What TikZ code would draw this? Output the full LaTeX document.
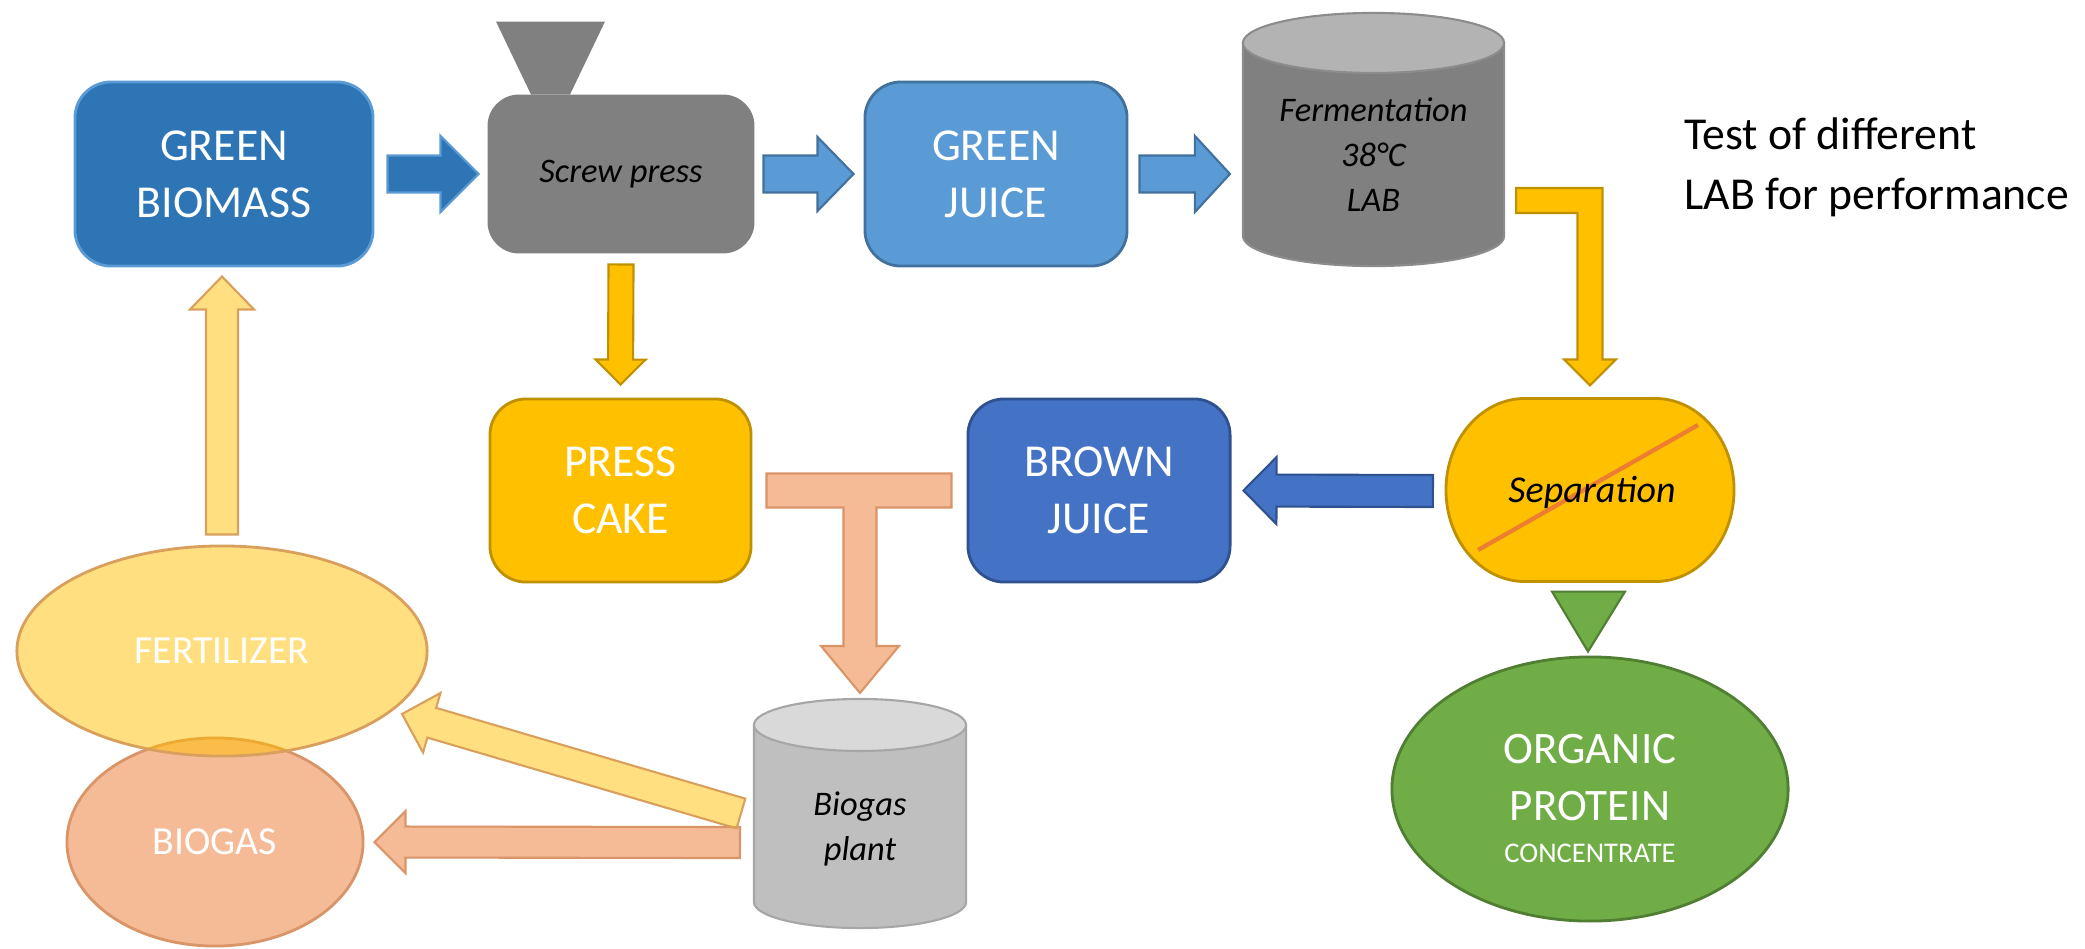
\documentclass[tikz,border=0pt]{standalone}
\usepackage{fontspec}
\setmainfont{Carlito}
\usepackage{tikz}
\usetikzlibrary{calc,shapes.geometric}

\definecolor{bluedark}{HTML}{2E75B6}
\definecolor{bluelight}{HTML}{5B9BD5}
\definecolor{blueedge}{HTML}{41719C}
\definecolor{bluemid}{HTML}{4472C4}
\definecolor{bluemidedge}{HTML}{2F528F}
\definecolor{gold}{HTML}{FFC000}
\definecolor{goldedge}{HTML}{BF9000}
\definecolor{paleedge}{HTML}{D8A05C}
\definecolor{salmon}{HTML}{F5BA96}
\definecolor{salmonedge}{HTML}{D99468}
\definecolor{leaf}{HTML}{70AD47}
\definecolor{leafedge}{HTML}{507E32}
\definecolor{orangeline}{HTML}{ED7D31}
\definecolor{graybody}{HTML}{808080}
\definecolor{graytop}{HTML}{B3B3B3}
\definecolor{grayedge}{HTML}{8C8C8C}
\definecolor{silverbody}{HTML}{BFBFBF}
\definecolor{silvertop}{HTML}{D9D9D9}
\definecolor{silveredge}{HTML}{A6A6A6}

\newcommand{\blockarrow}[6][]{%
  \coordinate (ba-h) at ($(#3)!#6!(#2)$);
  \draw[#1] ($(#2)!#4!90:(#3)$) -- ($(ba-h)!#4!90:(#3)$) -- ($(ba-h)!#5!90:(#3)$) -- (#3)
    -- ($(ba-h)!#5!-90:(#3)$) -- ($(ba-h)!#4!-90:(#3)$) -- ($(#2)!#4!-90:(#3)$) -- cycle;}

\newcommand{\tank}[6]{%
  \filldraw[fill=#4, draw=#6, line width=0.6pt] ($(#1.north west)+(0,-#3)$) -- ($(#1.south west)+(0,#3)$)
    arc[start angle=180, end angle=360, x radius=#2, y radius=#3] -- ($(#1.north east)+(0,-#3)$) -- cycle;
  \filldraw[fill=#5, draw=#6, line width=0.6pt] ($(#1.north)+(0,-#3)$) ellipse[x radius=#2, y radius=#3];}

\begin{document}
\begin{tikzpicture}[x=0.01cm,y=-0.01cm,
  box/.style={rectangle, rounded corners=0.36cm, minimum width=2.62cm, minimum height=1.84cm,
    align=center, text=white, line width=0.8pt, font=\fontsize{13}{16.3}\selectfont},
  tankbox/.style={inner sep=0pt, outer sep=0pt},
  tanktext/.style={align=center, font=\itshape\fontsize{9.8}{12.8}\selectfont},
  blob/.style={ellipse, inner sep=0pt, text=white, line width=0.8pt, font=\fontsize{11.3}{14}\selectfont},
  arrowdark/.style={fill=bluedark, draw=bluelight, line width=0.6pt},
  arrowlight/.style={fill=bluelight, draw=blueedge, line width=0.6pt},
  arrowmid/.style={fill=bluemid, draw=bluemidedge, line width=0.6pt},
  arrowgold/.style={fill=gold, draw=goldedge, line width=0.6pt},
  arrowpale/.style={fill=gold, fill opacity=0.5, draw=paleedge, line width=0.6pt},
  arrowsalmon/.style={fill=salmon, draw=salmonedge, line width=0.6pt}]
\useasboundingbox (0,0) rectangle (2085,948);

\node[box, minimum width=2.98cm, fill=bluedark, draw=bluelight] (gb) at (224,174) {GREEN\\BIOMASS};
\node[box, minimum width=2.64cm, minimum height=1.56cm, rounded corners=0.3cm, fill=graybody, draw=graybody,
  text=black, font=\itshape\fontsize{9.8}{12.8}\selectfont] (sp) at (621,174) {Screw press};
\fill[graybody] ($(sp.north)+(-90,0)$) -- ($(sp.north)+(-51,0)$) -- ($(sp.north)+(-16,-73)$) -- ($(sp.north)+(-125,-73)$) -- cycle;
\node[box, fill=bluelight, draw=blueedge] (gj) at (996,174) {GREEN\\JUICE};

\node[tankbox, minimum width=2.61cm, minimum height=2.53cm] (ferm) at (1373.5,139.5) {};
\tank{ferm}{1.305cm}{0.3cm}{graybody}{graytop}{grayedge}
\node[tanktext] (fermtext) at ($(ferm.center)+(0,15)$) {Fermentation\\38°C\\LAB};

\node[anchor=west, align=left, font=\fontsize{13}{17}\selectfont] (test) at (1672,167) {Test of different\\LAB for performance};

\node[box, minimum width=2.61cm, minimum height=1.83cm, fill=gold, draw=goldedge] (pc) at (620.5,490.5) {PRESS\\CAKE};
\node[box, minimum height=1.83cm, fill=bluemid, draw=bluemidedge] (bj) at (1099,490.5) {BROWN\\JUICE};

\node[tankbox, minimum width=2.88cm, minimum height=1.83cm] (sep) at (1590,490) {};
\filldraw[fill=gold, draw=goldedge, line width=0.8pt] ($(sep.north)+(-65,0)$) -- ($(sep.north)+(65,0)$)
  arc[start angle=90, end angle=-90, x radius=0.79cm, y radius=0.915cm] -- ($(sep.south)+(-65,0)$)
  arc[start angle=270, end angle=90, x radius=0.79cm, y radius=0.915cm] -- cycle;
\draw[orangeline, line width=1.2pt] ($(sep.center)+(-112,60)$) -- ($(sep.center)+(108,-65)$);
\node[font=\itshape\fontsize{10.8}{13}\selectfont] (septext) at ($(sep.center)+(2,2)$) {Separation};

\node[blob, minimum width=3.96cm, minimum height=2.64cm, fill=leaf, draw=leafedge, font=\fontsize{12.8}{16.3}\selectfont,
  align=center] (op) at (1590,789) {\rule{0pt}{13.5pt}ORGANIC\\PROTEIN\\[-4.5pt]{\fontsize{8.1}{10}\selectfont CONCENTRATE}};
\filldraw[fill=leaf, draw=leafedge, line width=0.6pt] ($(sep.south)+(-38,10)$) -- ($(sep.south)+(35,10)$) -- ($(op.north)+(-2,-4)$) -- cycle;

\node[tankbox, minimum width=2.12cm, minimum height=2.29cm] (bp) at (860,813.5) {};
\tank{bp}{1.06cm}{0.26cm}{silverbody}{silvertop}{silveredge}
\node[tanktext] (bptext) at ($(bp.center)+(0,15)$) {Biogas\\plant};

\node[blob, minimum width=2.96cm, minimum height=2.08cm, fill=salmon, draw=salmonedge] (bg) at (215,842) {BIOGAS};
\node[blob, minimum width=4.1cm, minimum height=2.1cm, fill=gold, fill opacity=0.5, text opacity=1, draw=paleedge] (fert) at (222,651) {FERTILIZER};

\coordinate (a1s) at ($(gb.east)+(13,0)$);
\coordinate (a1e) at ($(sp.west)+(-9,0)$);
\blockarrow[arrowdark]{a1s}{a1e}{0.185cm}{0.38cm}{0.38cm}
\coordinate (a2s) at ($(sp.east)+(9,0)$);
\coordinate (a2e) at ($(gj.west)+(-10,0)$);
\blockarrow[arrowlight]{a2s}{a2e}{0.185cm}{0.37cm}{0.36cm}
\coordinate (a3s) at ($(gj.east)+(11,0)$);
\coordinate (a3e) at ($(ferm.west |- gj.east)+(-13,0)$);
\blockarrow[arrowlight]{a3s}{a3e}{0.185cm}{0.38cm}{0.35cm}
\coordinate (a4s) at ($(sp.south)+(0,11)$);
\coordinate (a4e) at ($(pc.north)+(0,-13)$);
\blockarrow[arrowgold]{a4s}{a4e}{0.125cm}{0.25cm}{0.25cm}
\coordinate (a5s) at ($(sep.west)+(-13,1)$);
\coordinate (a5e) at ($(bj.east)+(12,0)$);
\blockarrow[arrowmid]{a5s}{a5e}{0.16cm}{0.335cm}{0.33cm}
\coordinate (a6s) at ($(fert.north)+(0,-10)$);
\coordinate (a6e) at ($(gb.south)+(-2,9)$);
\blockarrow[arrowpale]{a6s}{a6e}{0.16cm}{0.32cm}{0.33cm}
\coordinate (a8s) at ($(bp.west)+(-14,29)$);
\coordinate (a8e) at ($(bg.east)+(10,0)$);
\blockarrow[arrowsalmon]{a8s}{a8e}{0.155cm}{0.31cm}{0.31cm}
\coordinate (a7s) at ($(bp.west)+(-13,0)$);
\coordinate (a7e) at ($(fert.center)+(180,63)$);
\blockarrow[arrowpale]{a7s}{a7e}{0.155cm}{0.31cm}{0.31cm}

\coordinate (e0) at ($(ferm.east)+(12,61)$);
\coordinate (e1) at ($(sep.north)+(0,-13)$);
\draw[arrowgold] ($(e0)+(0,-12.5)$) -- ($(e0 -| e1)+(12.5,-12.5)$) -- ($(e1)+(12.5,-26)$) -- ($(e1)+(26,-26)$) -- (e1)
  -- ($(e1)+(-26,-26)$) -- ($(e1)+(-12.5,-26)$) -- ($(e0 -| e1)+(-12.5,12.5)$) -- ($(e0)+(0,12.5)$) -- cycle;

\coordinate (t0) at ($(pc.east)+(14,0)$);
\coordinate (t1) at ($(bj.west)+(-15,0)$);
\coordinate (tt) at ($(bp.north)+(0,-6)$);
\draw[arrowsalmon] ($(t0)+(0,-17)$) -- ($(t1)+(0,-17)$) -- ($(t1)+(0,17)$) -- ($(tt |- t1)+(16.5,17)$) -- ($(tt)+(16.5,-47)$)
  -- ($(tt)+(39,-47)$) -- (tt) -- ($(tt)+(-39,-47)$) -- ($(tt)+(-16.5,-47)$) -- ($(tt |- t0)+(-16.5,17)$) -- ($(t0)+(0,17)$) -- cycle;
\end{tikzpicture}
\end{document}
